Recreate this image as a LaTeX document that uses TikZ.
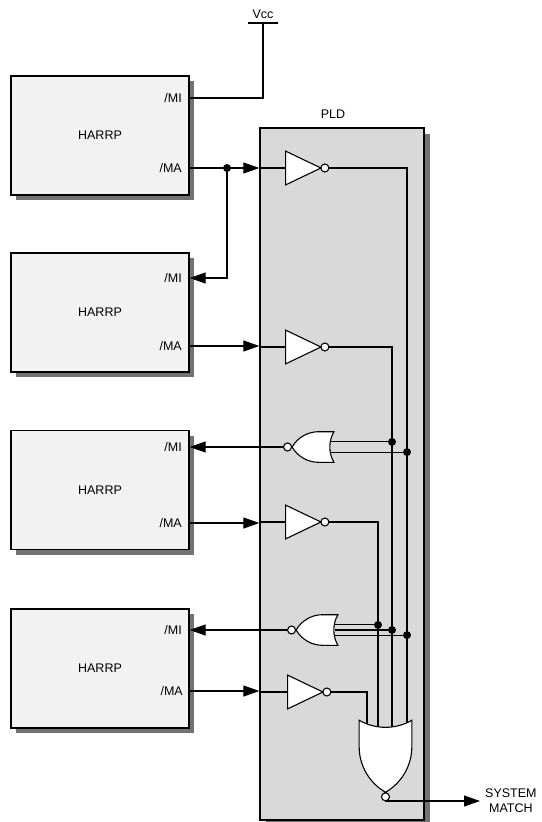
\documentclass[tikz,border=0pt]{standalone}
\usepackage{fontspec}
\setmainfont{Liberation Sans}
\usetikzlibrary{positioning}
\usetikzlibrary{arrows.meta}
\usetikzlibrary{shadows}
\usetikzlibrary{shapes.gates.logic.US}
\tikzset{wire/.style={line width=1.1pt}}
\tikzset{sig/.style={wire,-{Triangle[length=16pt,width=11pt]}}}
\tikzset{chip/.style={draw,line width=1.3pt,fill=black!5,minimum width=178pt,minimum height=119pt,
    drop shadow={shadow xshift=5pt,shadow yshift=-5pt,fill=black!55,opacity=1}}}
\tikzset{pld/.style={draw,line width=1.3pt,fill=black!15,minimum width=164pt,minimum height=692pt,
    drop shadow={shadow xshift=6pt,shadow yshift=-6pt,fill=black!55,opacity=1}}}
\tikzset{inv/.style={not gate US,draw,fill=white,line width=1.1pt,minimum width=33pt,minimum height=29pt,
    logic gate inverted radius=4pt}}
\tikzset{nor/.style={nor gate US,draw,fill=white,line width=1.1pt,minimum width=40pt,minimum height=29pt,
    rotate=180,logic gate inverted radius=4pt}}
\tikzset{pin/.style={anchor=east,inner sep=0pt}}
\tikzset{dot/.style={circle,fill,inner sep=0pt,minimum size=8pt}}

\begin{document}
\begin{tikzpicture}[x=1pt,y=1pt,font=\fontsize{12.5}{15}\selectfont]
        \useasboundingbox (0,0) rectangle (541,-822);
        % programmable logic device
        \node[pld] (pld) at (342,-474) {};
        \node (pldname) at (333,-114) {PLD};
        % the four HARRP chips
        \node[chip] (c1) at (100,-135.5) {HARRP};
        \node[chip] (c2) at (100,-312.5) {HARRP};
        \node[chip] (c3) at (100,-490) {HARRP};
        \node[chip] (c4) at (100,-668.5) {HARRP};
        \node[pin] (mi1) at (182,-98) {/MI};
        \node[pin] (ma1) at (182,-168) {/MA};
        \node[pin] (mi2) at (182,-278) {/MI};
        \node[pin] (ma2) at (182,-346) {/MA};
        \node[pin] (mi3) at (182,-447) {/MI};
        \node[pin] (ma3) at (182,-523) {/MA};
        \node[pin] (mi4) at (182,-630) {/MI};
        \node[pin] (ma4) at (183,-691) {/MA};
        % supply
        \node (vcc) at (263,-14) {Vcc};
        \coordinate (vccbar) at (263,-23);
        \draw[wire] ([xshift=-15pt]vccbar) -- ([xshift=15pt]vccbar);
        \draw[wire] (c1.east |- mi1) -| (vccbar);
        % gates
        \node[inv,anchor=input] (n1) at (285,-168) {};
        \node[inv,anchor=input] (n2) at (285,-347) {};
        \node[inv,anchor=input] (n3) at (285,-522) {};
        \node[inv,anchor=input] (n4) at (287,-692) {};
        \node[nor,anchor=output] (nor1) at (283,-447) {};
        \node[nor,anchor=output] (nor2) at (287,-630) {};
        \coordinate (nor2mid) at (nor2.center -| nor2.input 1);
        % chip outputs into the PLD
        \draw[sig] (c1.east |- ma1) -- (pld.west |- ma1);
        \draw[sig] (c2.east |- ma2) -- (pld.west |- ma2);
        \draw[sig] (c3.east |- ma3) -- (pld.west |- ma3);
        \draw[sig] (c4.east |- ma4) -- (pld.west |- ma4);
        \draw[wire] (pld.west |- n1.input) -- (n1.input);
        \draw[wire] (pld.west |- n2.input) -- (n2.input);
        \draw[wire] (pld.west |- n3.input) -- (n3.input);
        \draw[wire] (pld.west |- n4.input) -- (n4.input);
        \node[dot] (j1) at (227,-168) {};
        \draw[sig] (j1.center) |- (c2.east |- mi2);
        % match lines, ends hidden under the final gate
        \coordinate (allc) at (385.5,-751);
        \coordinate (w1) at (407,-751);
        \coordinate (w2) at (392,-751);
        \coordinate (w3) at (378,-751);
        \coordinate (w4) at (367,-751);
        \draw[wire] (n1.output) -| (w1);
        \draw[wire] (n2.output) -| (w2);
        \draw[wire] (n3.output) -| (w3);
        \draw[wire] (n4.output) -| (w4);
        \node[nor gate US,draw,fill=white,line width=1.1pt,rotate=-90,
            minimum width=72pt,minimum height=49pt,logic gate inverted radius=4pt] (all) at (allc) {};
        \node[dot] (d11) at (nor1.input 1 -| w1) {};
        \node[dot] (d12) at (nor1.input 2 -| w2) {};
        \draw[wire] (nor1.input 1) -- (d11);
        \draw[wire] (nor1.input 2) -- (d12);
        \node[dot] (d21) at (nor2.input 1 -| w1) {};
        \node[dot] (d22) at (nor2mid -| w2) {};
        \node[dot] (d23) at (nor2.input 2 -| w3) {};
        \draw[wire] (nor2.input 1) -- (d21);
        \draw[wire] (nor2mid) -- (d22);
        \draw[wire] (nor2.input 2) -- (d23);
        \draw[sig] (nor1.output) -- (c3.east |- nor1.output);
        \draw[sig] (nor2.output) -- (c4.east |- nor2.output);
        % system match
        \node[anchor=west,align=center,inner sep=5pt] (match) at (480,-801) {SYSTEM\\MATCH};
        \draw[sig] (all.output) |- (match.west);
    \end{tikzpicture}
\end{document}
